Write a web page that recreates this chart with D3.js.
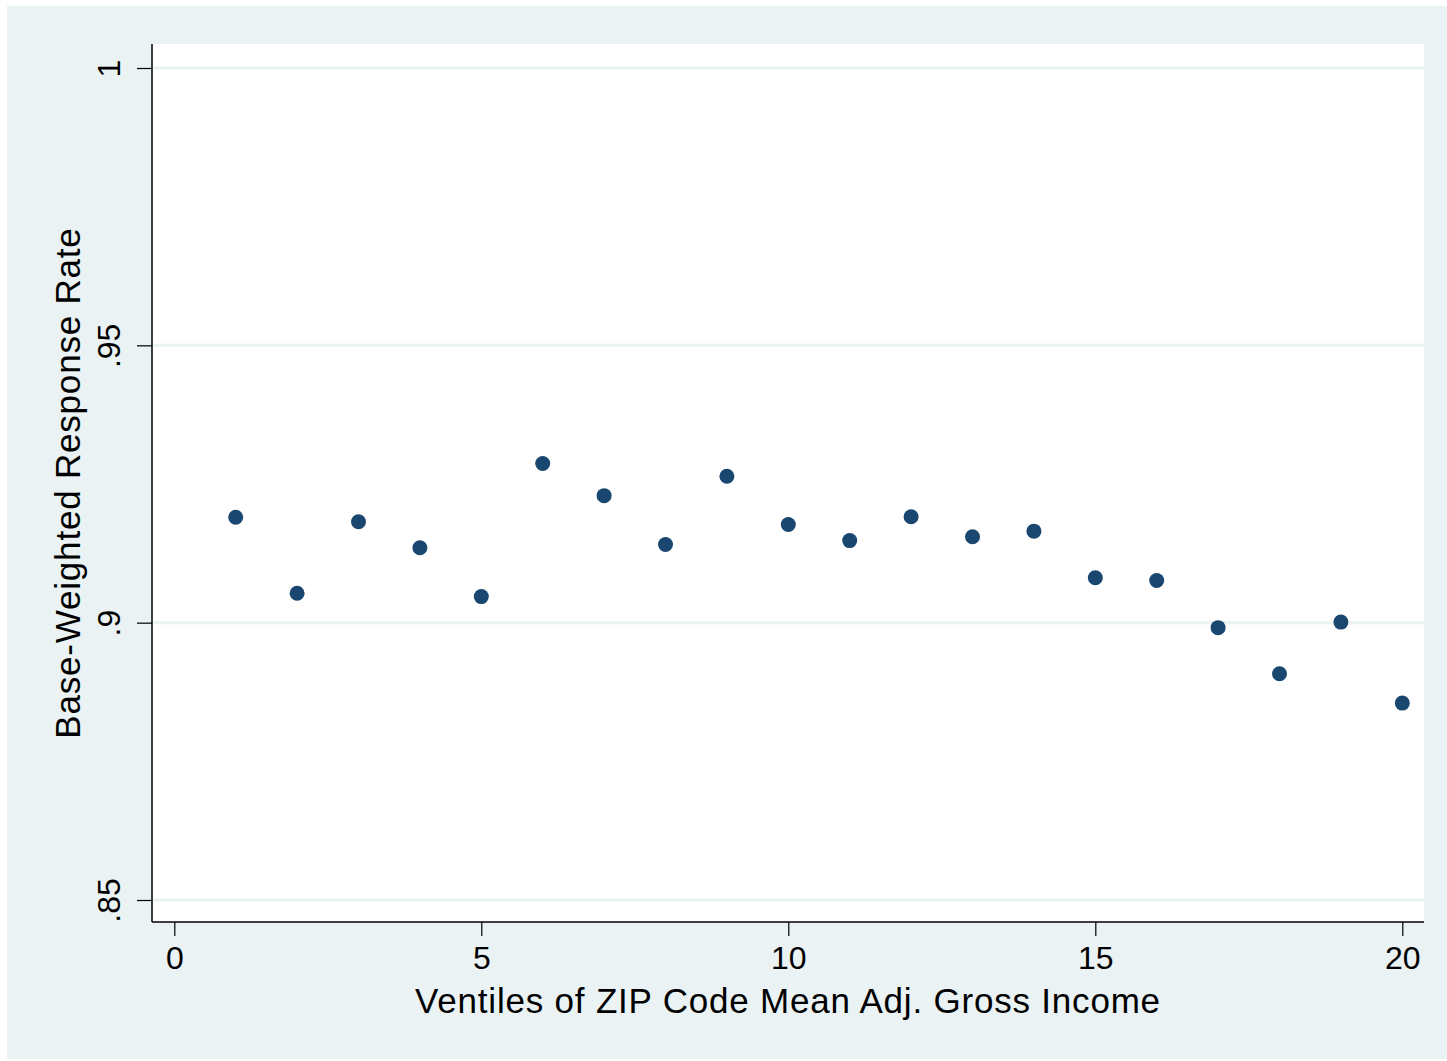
<!DOCTYPE html>
<head>
<meta charset="utf-8">
<style>
  body { margin: 0; background: #fff; }
  text { font-family: "Liberation Sans", Arial, sans-serif; fill: #000; }
</style>
<script src="https://d3js.org/d3.v7.min.js"></script>
</head>
<body>
<script>
// ventile number and base-weighted response rate
var ventiles = [1, 2, 3, 4, 5, 6, 7, 8, 9, 10, 11, 12, 13, 14, 15, 16, 17, 18, 19, 20];
var rates = [.9190, .9053, .9182, .9135, .9047, .9287, .9229, .9141, .9264, .9177,
             .9148, .9191, .9155, .9165, .9081, .9076, .8991, .8908, .9001, .8855];
var xTicks = [0, 5, 10, 15, 20];
var yTicks = [.85, .9, .95, 1];
var yTickLabels = [".85", ".9", ".95", "1"];

var width = 1447, height = 1061;
var svg = d3.select("body").append("svg").attr("width", width).attr("height", height);

// outer graph region
svg.append("rect").attr("x", 7).attr("y", 6).attr("width", 1440).attr("height", 1053)
    .attr("fill", "#eaf2f3");

var plot = {left: 152, top: 44, right: 1424, bottom: 922};
svg.append("rect").attr("x", plot.left).attr("y", plot.top)
    .attr("width", plot.right - plot.left).attr("height", plot.bottom - plot.top)
    .attr("fill", "#fff");

var x = d3.scaleLinear().domain([0, 20]).range([174.3, 1402.3]);
var y = d3.scaleLinear().domain([.85, 1]).range([900, 68]);

// grid
svg.selectAll(".grid").data(yTicks).enter().append("line")
    .attr("x1", plot.left + 1).attr("x2", plot.right)
    .attr("y1", function(d) { return y(d); }).attr("y2", function(d) { return y(d); })
    .attr("stroke", "#eaf2f3").attr("stroke-width", 3);

// y axis
var yAxis = svg.append("g").attr("transform", "translate(" + plot.left + ",0)")
    .call(d3.axisLeft(y).tickValues(yTicks).tickSize(15)
      .tickFormat(function(d, i) { return yTickLabels[i]; }));
yAxis.select(".domain").attr("d", "M0," + plot.top + "V" + plot.bottom)
    .attr("stroke", "#000").attr("stroke-width", 1.5);
yAxis.selectAll(".tick line").attr("stroke", "#000").attr("stroke-width", 1.2);
yAxis.selectAll(".tick text")
    .attr("font-size", 32).attr("font-family", "Liberation Sans, Arial, sans-serif")
    .attr("fill", "#000")
    .attr("x", null).attr("dy", null)
    .attr("text-anchor", "middle")
    .attr("transform", "translate(-32,0) rotate(-90)");

// x axis
var xAxis = svg.append("g").attr("transform", "translate(0," + plot.bottom + ")")
    .call(d3.axisBottom(x).tickValues(xTicks).tickSize(14));
xAxis.select(".domain").attr("d", "M" + plot.left + ",0H" + plot.right)
    .attr("stroke", "#000").attr("stroke-width", 1.5);
xAxis.selectAll(".tick line").attr("stroke", "#000").attr("stroke-width", 1.2);
xAxis.selectAll(".tick text")
    .attr("font-size", 32).attr("font-family", "Liberation Sans, Arial, sans-serif")
    .attr("fill", "#000")
    .attr("y", 47).attr("dy", null);

// titles
svg.append("text").attr("x", (plot.left + plot.right) / 2).attr("y", 1013)
    .attr("text-anchor", "middle").attr("font-size", 35).attr("letter-spacing", 0.8)
    .text("Ventiles of ZIP Code Mean Adj. Gross Income");
svg.append("text")
    .attr("transform", "translate(80," + (plot.top + plot.bottom) / 2 + ") rotate(-90)")
    .attr("text-anchor", "middle").attr("font-size", 35).attr("letter-spacing", 0.8)
    .text("Base-Weighted Response Rate");

// points
svg.selectAll(".pt").data(ventiles).enter().append("circle")
    .attr("cx", function(d) { return x(d); })
    .attr("cy", function(d, i) { return y(rates[i]); })
    .attr("r", 7.5)
    .attr("fill", "#1a476f");
</script>
</body>
</html>
